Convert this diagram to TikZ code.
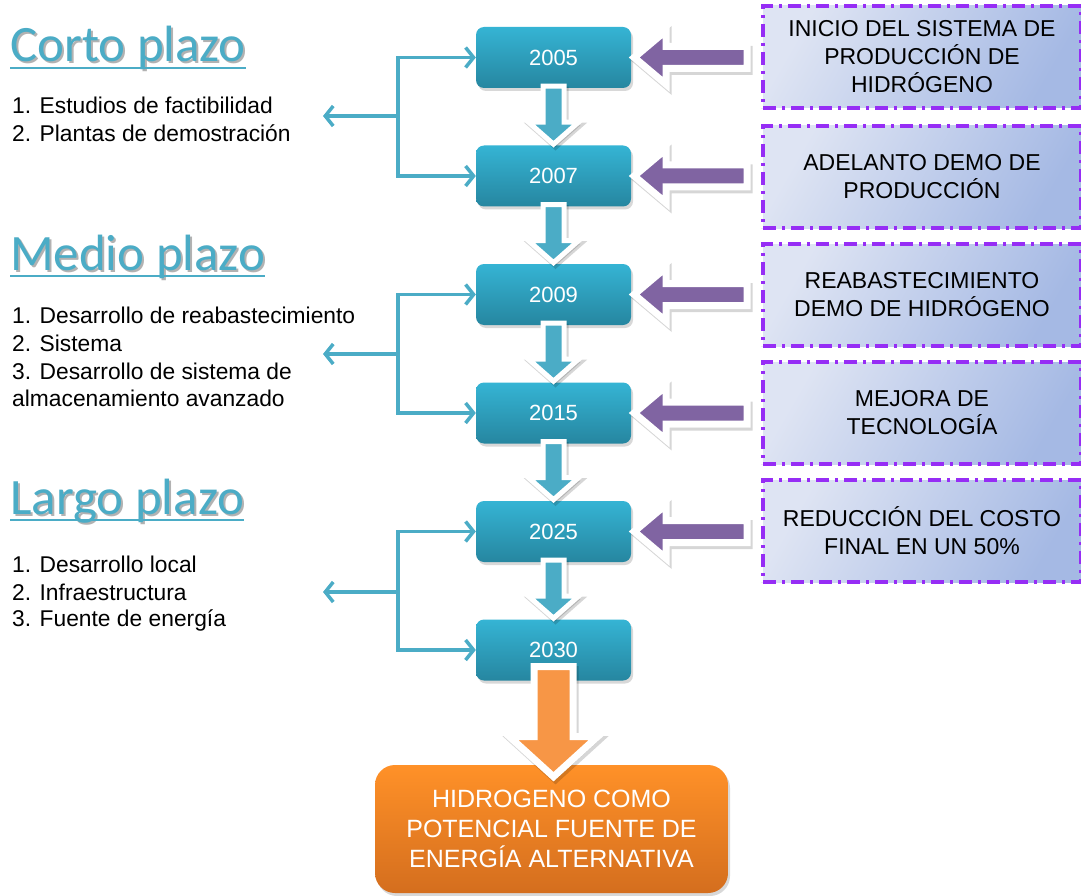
\documentclass[tikz,border=0pt]{standalone}
\usepackage{fontspec}
\setmainfont{Liberation Sans}
\newfontfamily\titlefont{Carlito}
\usetikzlibrary{calc,arrows.meta,shadows}
\definecolor{tealtop}{RGB}{53,180,212}
\definecolor{tealbot}{RGB}{38,134,160}
\definecolor{tealline}{RGB}{75,172,198}
\definecolor{purpfill}{RGB}{128,100,162}
\definecolor{dashviolet}{RGB}{150,45,245}
\definecolor{lavleft}{RGB}{222,228,243}
\definecolor{lavright}{RGB}{165,185,228}
\definecolor{orangetop}{RGB}{255,145,40}
\definecolor{orangebot}{RGB}{212,110,30}
\definecolor{orangearr}{RGB}{247,150,70}
\begin{document}
\begin{tikzpicture}[x=1pt,y=-1pt,
  yearbox/.style={rounded corners=8pt, minimum width=155pt, minimum height=61pt,
    top color=tealtop, bottom color=tealbot, text=white, inner sep=0pt,
    font=\fontsize{22}{26}\selectfont,
    drop shadow={opacity=0.3, shadow xshift=2pt, shadow yshift=-3pt}},
  infobox/.style={minimum width=318pt, minimum height=102pt, align=center,
    shading=axis, left color=lavleft, right color=lavright, shading angle=60,
    draw=dashviolet, line width=3.5pt,
    dash pattern=on 13pt off 6pt on 3pt off 6pt,
    font=\fontsize{23}{28}\selectfont},
  finbox/.style={rounded corners=20pt, minimum width=353pt, minimum height=128pt,
    top color=orangetop, bottom color=orangebot, text=white, align=center,
    font=\fontsize{25}{30}\selectfont,
    drop shadow={opacity=0.3, shadow xshift=2pt, shadow yshift=-3pt}},
  title/.style={anchor=base west, inner sep=0pt, text=tealline,
    font=\titlefont\fontsize{51}{56}\selectfont},
  titleshadow/.style={title, text=black!30},
  tline/.style={draw=tealline, line width=2.5pt},
  item/.style={anchor=west, inner sep=0pt, font=\fontsize{22.8}{28}\selectfont},
  bline/.style={draw=tealline, line width=3.5pt,
    -{Straight Barb[length=8pt,width=20pt]}},
  outshadow/.style={preaction={draw=black, fill=black, opacity=0.16,
    line width=#1, line join=miter, transform canvas={shift={(2,3)}}}},
  tealarr/.style={fill=tealline, draw=white, line width=5pt, line join=miter, outshadow=5pt},
  purparr/.style={fill=purpfill, draw=white, line width=7pt, line join=miter, outshadow=7pt},
  orarr/.style={fill=orangearr, draw=white, line width=7pt, line join=miter, outshadow=7pt}]
\fill[white] (0,0) rectangle (1081,896);
\useasboundingbox (0,0) rectangle (1081,896);
% titulos
\node[titleshadow] at (12,64) {Corto plazo};
\node[title] (tcorto) at (10,62) {Corto plazo};
\draw[tline] ($(tcorto.base west)+(0,6)$) -- ($(tcorto.base east)+(0,6)$);
\node[titleshadow] at (12,272) {Medio plazo};
\node[title] (tmedio) at (10,270) {Medio plazo};
\draw[tline] ($(tmedio.base west)+(0,6)$) -- ($(tmedio.base east)+(0,6)$);
\node[titleshadow] at (12,516) {Largo plazo};
\node[title] (tlargo) at (10,514) {Largo plazo};
\draw[tline] ($(tlargo.base west)+(0,6)$) -- ($(tlargo.base east)+(0,6)$);
% listas
\node[item] (c1) at (12,105) {1. Estudios de factibilidad};
\node[item] (c2) at (12,133) {2. Plantas de demostración};
\node[item] (m1) at (12,315) {1. Desarrollo de reabastecimiento};
\node[item] (m2) at (12,343) {2. Sistema};
\node[item] (m3) at (12,371) {3. Desarrollo de sistema de};
\node[item] (m4) at (12,398) {almacenamiento avanzado};
\node[item] (l1) at (12,564) {1. Desarrollo local};
\node[item] (l2) at (12,592) {2. Infraestructura};
\node[item] (l3) at (12,620) {3. Fuente de energía};
% cuadros derechos
\node[infobox] (r1) at (922,57) {INICIO DEL SISTEMA DE\\PRODUCCIÓN DE\\HIDRÓGENO};
\node[infobox] (r2) at (922,177) {ADELANTO DEMO DE\\PRODUCCIÓN};
\node[infobox] (r3) at (922,295) {REABASTECIMIENTO\\DEMO DE HIDRÓGENO};
\node[infobox] (r4) at (922,413) {MEJORA DE\\TECNOLOGÍA};
\node[infobox] (r5) at (922,531) {REDUCCIÓN DEL COSTO\\FINAL EN UN 50\%};
% años
\node[yearbox] (y2005) at (553.5,57.5) {2005};
\node[yearbox] (y2007) at (553.5,176) {2007};
\node[yearbox] (y2009) at (553.5,294.5) {2009};
\node[yearbox] (y2015) at (553.5,413) {2015};
\node[yearbox] (y2025) at (553.5,531.5) {2025};
\node[yearbox] (y2030) at (553.5,650) {2030};
% final
\node[finbox] (fin) at (551.5,829) {HIDROGENO COMO\\POTENCIAL FUENTE DE\\ENERGÍA ALTERNATIVA};
% corchetes
\coordinate (j1) at (398,116);
\coordinate (k1) at (323,116);
\draw[bline] (j1) |- (y2005.west);
\draw[bline] (j1) |- (y2007.west);
\draw[bline] (j1) -- (k1);
\coordinate (j2) at (398,354);
\coordinate (k2) at (323,354);
\draw[bline] (j2) |- (y2009.west);
\draw[bline] (j2) |- (y2015.west);
\draw[bline] (j2) -- (k2);
\coordinate (j3) at (398,592);
\coordinate (k3) at (323,592);
\draw[bline] (j3) |- (y2025.west);
\draw[bline] (j3) |- (y2030.west);
\draw[bline] (j3) -- (k3);
% flechas hacia abajo
\filldraw[tealarr] ($(y2005.south)+(-10.5,-2)$) -- ++(0,36) -- ++(-14.5,0) -- ++(25,22) -- ++(25,-22) -- ++(-14.5,0) -- ++(0,-36) -- cycle;
\filldraw[tealarr] ($(y2007.south)+(-10.5,-2)$) -- ++(0,36) -- ++(-14.5,0) -- ++(25,22) -- ++(25,-22) -- ++(-14.5,0) -- ++(0,-36) -- cycle;
\filldraw[tealarr] ($(y2009.south)+(-10.5,-2)$) -- ++(0,36) -- ++(-14.5,0) -- ++(25,22) -- ++(25,-22) -- ++(-14.5,0) -- ++(0,-36) -- cycle;
\filldraw[tealarr] ($(y2015.south)+(-10.5,-2)$) -- ++(0,36) -- ++(-14.5,0) -- ++(25,22) -- ++(25,-22) -- ++(-14.5,0) -- ++(0,-36) -- cycle;
\filldraw[tealarr] ($(y2025.south)+(-10.5,-2)$) -- ++(0,36) -- ++(-14.5,0) -- ++(25,22) -- ++(25,-22) -- ++(-14.5,0) -- ++(0,-36) -- cycle;
% flechas moradas
\filldraw[purparr] ($(y2005.east)+(3,0)$) -- ++(32,-27) -- ++(0,16) -- ++(81,0) -- ++(0,22) -- ++(-81,0) -- ++(0,16) -- cycle;
\filldraw[purparr] ($(y2007.east)+(3,0)$) -- ++(32,-27) -- ++(0,16) -- ++(81,0) -- ++(0,22) -- ++(-81,0) -- ++(0,16) -- cycle;
\filldraw[purparr] ($(y2009.east)+(3,0)$) -- ++(32,-27) -- ++(0,16) -- ++(81,0) -- ++(0,22) -- ++(-81,0) -- ++(0,16) -- cycle;
\filldraw[purparr] ($(y2015.east)+(3,0)$) -- ++(32,-27) -- ++(0,16) -- ++(81,0) -- ++(0,22) -- ++(-81,0) -- ++(0,16) -- cycle;
\filldraw[purparr] ($(y2025.east)+(3,0)$) -- ++(32,-27) -- ++(0,16) -- ++(81,0) -- ++(0,22) -- ++(-81,0) -- ++(0,16) -- cycle;
% flecha naranja
\filldraw[orarr] ($(y2030.south)+(-19.5,-14)$) -- ++(0,70) -- ++(-24.5,0) -- ++(44,40) -- ++(44,-40) -- ++(-24.5,0) -- ++(0,-70) -- cycle;
\end{tikzpicture}
\end{document}
